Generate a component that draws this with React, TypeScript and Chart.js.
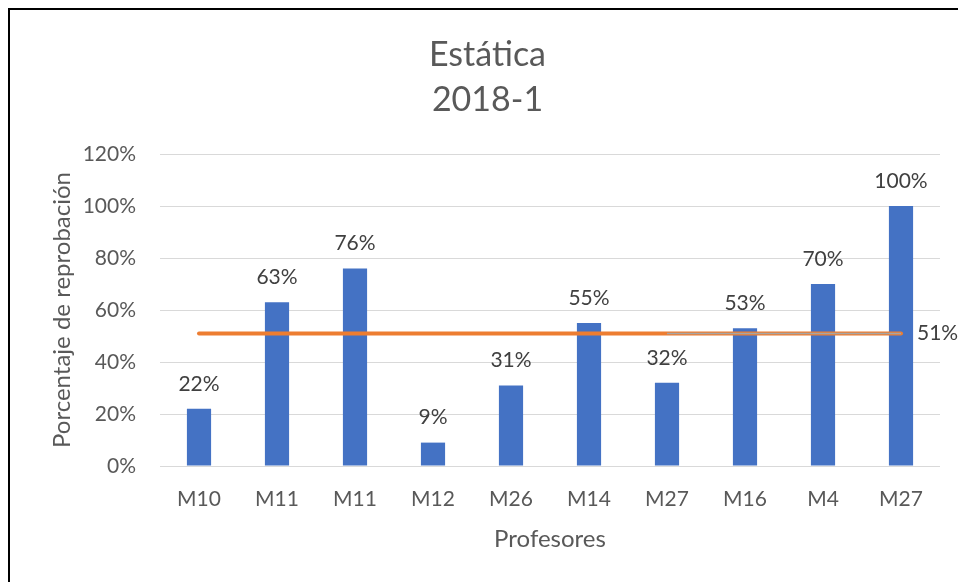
import React, { useEffect, useRef } from "react";
import { Chart, registerables } from "chart.js";

Chart.register(...registerables);

const categories = ["M10", "M11", "M11", "M12", "M26", "M14", "M27", "M16", "M4", "M27"];
const reprobacion = [22, 63, 76, 9, 31, 55, 32, 53, 70, 100];
const promedio = [51, 51, 51, 51, 51, 51, 51, 51, 51, 51];
const promedioTramo = [null, null, null, null, null, null, 51, 51, 51, 51];
const titleLines = ["Estática", "2018-1"];
const yTitle = "Porcentaje de reprobación";
const xTitle = "Profesores";

const FONT = "Lato, 'Open Sans', sans-serif";

export default function App() {
  const ref = useRef<HTMLCanvasElement | null>(null);

  useEffect(() => {
    if (!ref.current) return;
    const labelPlugin = {
      id: "valueLabels",
      afterDatasetsDraw(chart: any) {
        const ctx = chart.ctx;
        ctx.save();
        ctx.font = `21px ${FONT}`;
        ctx.fillStyle = "#404040";
        ctx.textBaseline = "middle";
        const barMeta = chart.getDatasetMeta(0);
        ctx.textAlign = "center";
        barMeta.data.forEach((el: any, i: number) => {
          ctx.fillText(reprobacion[i] + "%", el.x, el.y - 25);
        });
        const lineMeta = chart.getDatasetMeta(1);
        const last = lineMeta.data[lineMeta.data.length - 1];
        ctx.textAlign = "left";
        ctx.fillText(promedio[promedio.length - 1] + "%", last.x + 16, last.y);
        ctx.restore();
      },
    };

    const chart = new Chart(ref.current, {
      type: "bar",
      data: {
        labels: categories,
        datasets: [
          {
            type: "bar",
            data: reprobacion,
            backgroundColor: "#4472C4",
            borderWidth: 0,
            barPercentage: 0.31,
            categoryPercentage: 1,
            order: 2,
          } as any,
          {
            type: "line",
            data: promedio,
            borderColor: "#ED7D31",
            borderWidth: 4,
            borderCapStyle: "round",
            pointRadius: 0,
            fill: false,
            order: 1,
          } as any,
          {
            type: "line",
            data: promedioTramo,
            borderColor: "#A5A5A5",
            borderWidth: 1.5,
            pointRadius: 0,
            fill: false,
            spanGaps: false,
            order: 0,
          } as any,
        ],
      },
      options: {
        responsive: false,
        animation: false,
        layout: { padding: { left: 25, right: 18, top: 0, bottom: 0 } },
        plugins: {
          legend: { display: false },
          tooltip: { enabled: false },
          title: {
            display: true,
            text: titleLines,
            color: "#595959",
            font: { family: FONT, size: 34, weight: "normal", lineHeight: 45 / 34 },
            padding: { top: 22.5, bottom: 31.5 },
          },
        },
        scales: {
          x: {
            grid: { display: false, drawTicks: false },
            border: { display: false },
            ticks: {
              color: "#595959",
              font: { family: FONT, size: 21, lineHeight: 1.2 },
              padding: 21,
              maxRotation: 0,
            },
            title: {
              display: true,
              text: xTitle,
              color: "#595959",
              font: { family: FONT, size: 24, lineHeight: 1.2 },
              padding: { top: 0, bottom: 28.6 },
            },
            afterFit: (s: any) => {
              s.height = 116;
            },
          },
          y: {
            min: 0,
            max: 120,
            grid: { color: "#D9D9D9", lineWidth: 1, drawTicks: false },
            border: { display: false },
            ticks: {
              stepSize: 20,
              color: "#595959",
              font: { family: FONT, size: 21, lineHeight: 1.2 },
              padding: 24,
              callback: (v: any) => v + "%",
            },
            title: {
              display: true,
              text: yTitle,
              color: "#595959",
              font: { family: FONT, size: 24, lineHeight: 1.2 },
              padding: { top: 12.6, bottom: 0 },
            },
            afterFit: (s: any) => {
              s.width = 125;
            },
          },
        },
      } as any,
      plugins: [labelPlugin],
    });
    return () => chart.destroy();
  }, []);

  return (
    <div
      style={{
        position: "absolute",
        left: 8,
        top: 8,
        width: 950,
        height: 574,
        borderTop: "2px solid #000",
        borderLeft: "2px solid #000",
        boxSizing: "border-box",
        background: "#fff",
        overflow: "hidden",
      }}
    >
      <canvas ref={ref} width={948} height={572} style={{ display: "block", width: 948, height: 572 }} />
    </div>
  );
}
